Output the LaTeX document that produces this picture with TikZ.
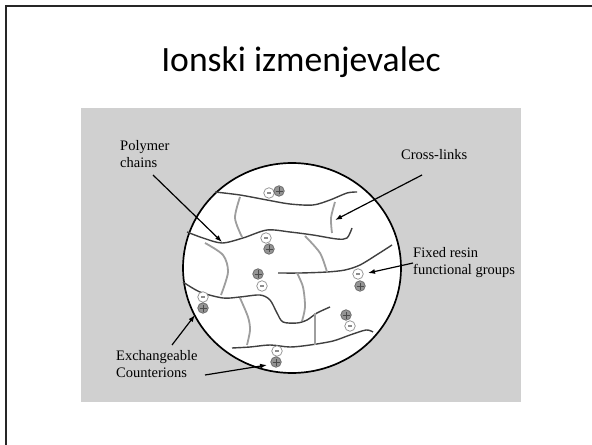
\documentclass[tikz,border=0pt]{standalone}
\usepackage{fontspec}
\setmainfont{Liberation Serif}
\newfontfamily\titlefont{Carlito}
\usetikzlibrary{arrows.meta}

\begin{document}
\begin{tikzpicture}[x=1bp, y=-1bp,
  chainline/.style={color=black!75, line width=1.4},
  linkline/.style={color=black!38, line width=1.8},
  pointer/.style={line width=1.2, -{Latex[length=7pt,width=5pt]}},
  lbl/.style={anchor=base west, inner sep=0, align=left, font=\fontsize{14.5bp}{17bp}\selectfont},
  ion/.style={circle, inner sep=0, minimum size=10.5bp, line width=0.7},
  negion/.style={ion, draw=black!45, fill=white,
    path picture={\draw[line width=1.1]
      ([xshift=-2bp]path picture bounding box.center) -- ([xshift=2bp]path picture bounding box.center);}},
  posion/.style={ion, draw=black!60, fill=black!42,
    path picture={\draw[black!70, line width=0.6]
      ([xshift=-3.5bp]path picture bounding box.center) -- ([xshift=3.5bp]path picture bounding box.center)
      ([yshift=-3.5bp]path picture bounding box.center) -- ([yshift=3.5bp]path picture bounding box.center);}}
]
\useasboundingbox (0,0) rectangle (592,445);
% slide frame
\draw[line width=2, black!85] (6,445) -- (6,6) -- (592,6);
% title
\node[anchor=base, font=\titlefont\fontsize{35.6bp}{40bp}\selectfont] (title) at (301,72) {Ionski izmenjevalec};
% grey panel and resin bead
\fill[black!18.5] (81,108) rectangle (521,402);
\draw[fill=white, line width=1.7] (292,268) ellipse [x radius=109, y radius=105];

% polymer chains
\draw[chainline] plot[smooth] coordinates{(215,192) (240,195) (267,200) (290,204) (313,205) (330,200) (347,193) (357,192)};
\draw[chainline] plot[smooth] coordinates{(187,232) (203,238) (222,243) (243,238) (267,230) (290,232) (313,235) (337,239) (347,238) (352,228)};
\draw[chainline] plot[smooth] coordinates{(278,273) (300,273) (327,272) (345,270) (360,265) (378,254) (392,245)};
\draw[chainline] plot[smooth] coordinates{(183,282) (200,292) (223,298) (240,297) (260,295) (270,300) (277,313) (283,322) (297,323) (307,320) (317,313) (330,307)};
\draw[chainline] plot[smooth] coordinates{(232,348) (250,347) (270,345) (290,347) (310,345) (333,341) (350,335) (366,330) (373,332)};

% cross-links
\draw[linkline] plot[smooth] coordinates{(240,197) (235,218) (242,237)};
\draw[linkline] plot[smooth] coordinates{(335,202) (331,218) (332,233)};
\draw[linkline] plot[smooth] coordinates{(205,243) (223,255) (228,272) (221,295)};
\draw[linkline] plot[smooth] coordinates{(305,236) (320,253) (327,272)};
\draw[linkline] plot[smooth] coordinates{(297,273) (303,287) (305,307) (302,321)};
\draw[linkline] plot[smooth] coordinates{(240,298) (248,317) (250,330) (247,345)};
\draw[linkline] (315,313) -- (315,345);

% fixed groups and counterions
\node[negion] (n1) at (269,193) {};
\node[posion] (p1) at (279,191) {};
\node[negion] (n2) at (266,238) {};
\node[posion] (p2) at (269,249) {};
\node[posion] (p3) at (258,274) {};
\node[negion] (n3) at (262,286) {};
\node[negion] (n4) at (358,274) {};
\node[posion] (p4) at (360,286) {};
\node[negion] (n5) at (203,297) {};
\node[posion] (p5) at (203,308) {};
\node[posion] (p6) at (346,315) {};
\node[negion] (n6) at (350,326) {};
\node[negion] (n7) at (277,351) {};
\node[posion] (p7) at (276,362) {};

% labels (two-line nodes sit on their middle, hence the extra 20)
\node[lbl] (polymer) at (120,168) {Polymer\\chains};
\node[lbl] (crosslinks) at (401,160) {Cross-links};
\node[lbl] (resin) at (413,275) {Fixed resin\\functional groups};
\node[lbl] (counter) at (116,377) {Exchangeable\\Counterions};

% pointers
\coordinate (polyFrom) at (153,175);
\coordinate (polyTip) at (222,242);
\coordinate (crossFrom) at (422,175);
\coordinate (crossTip) at (335,220);
\coordinate (resinFrom) at (413,263);
\coordinate (resinTip) at (368,273);
\coordinate (exchFrom) at (172,345);
\coordinate (exchTip) at (195,315);
\coordinate (countFrom) at (205,375);
\coordinate (countTip) at (267,365);
\draw[pointer] (polyFrom) -- (polyTip);
\draw[pointer] (crossFrom) -- (crossTip);
\draw[pointer] (resinFrom) -- (resinTip);
\draw[pointer] (exchFrom) -- (exchTip);
\draw[pointer] (countFrom) -- (countTip);
\end{tikzpicture}
\end{document}
